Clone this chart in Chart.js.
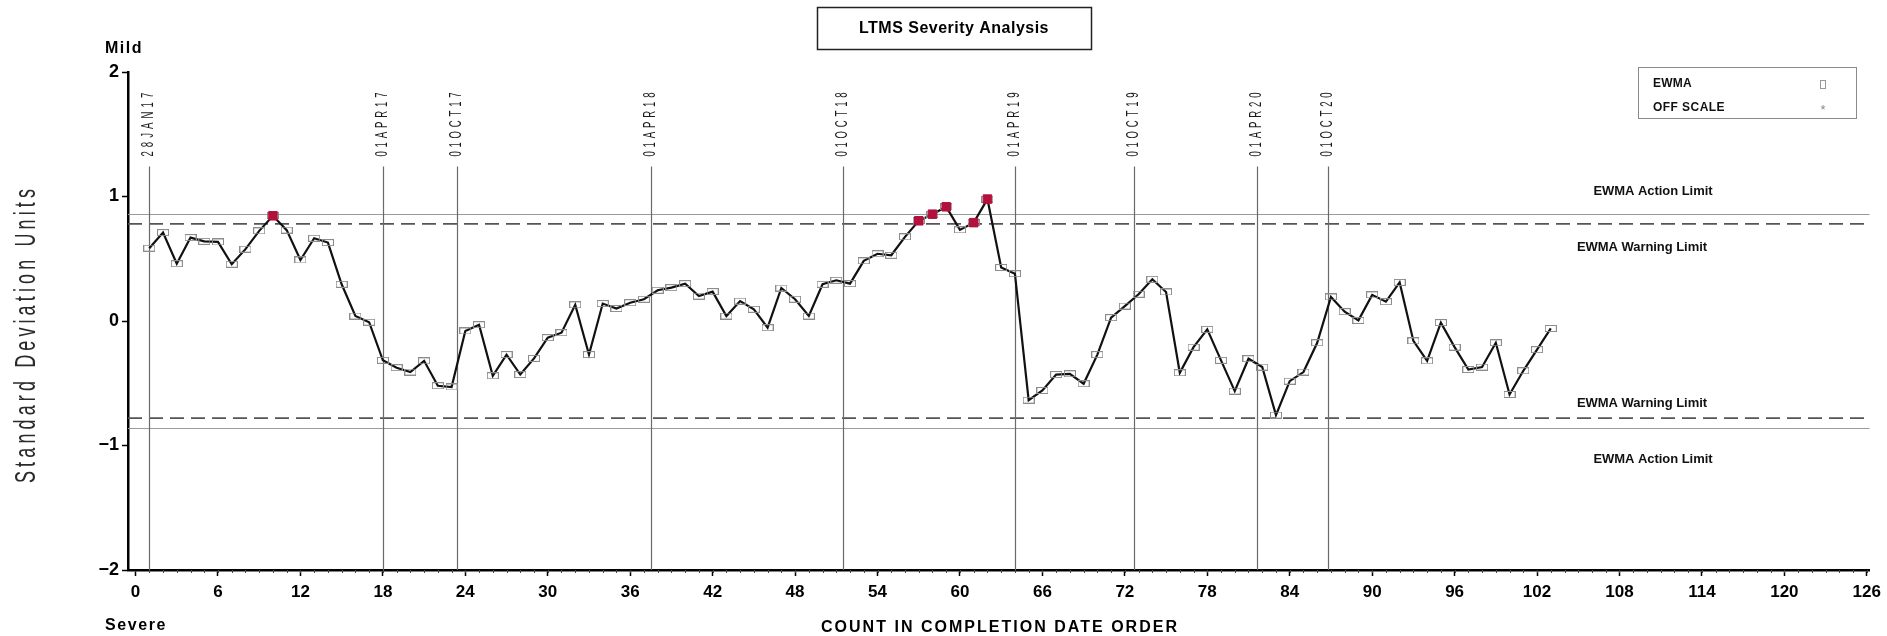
<!DOCTYPE html>
<html>
<head>
<meta charset="utf-8">
<script src="https://cdn.jsdelivr.net/npm/chart.js@4.4.1/dist/chart.umd.min.js"></script>
<style>
  html, body { margin: 0; padding: 0; background: #fff; }
</style>
</head>
<body>
<canvas id="myChart" width="1887" height="636"></canvas>
<script>
// EWMA value for each test, in completion order (count 1..103)
const ewma = [
  0.585, 0.71, 0.46, 0.67, 0.64, 0.635, 0.456, 0.577, 0.724, 0.845,
  0.73, 0.49, 0.665, 0.63, 0.295, 0.04, -0.01, -0.316, -0.375, -0.41,
  -0.32, -0.52, -0.53, -0.08, -0.03, -0.44, -0.27, -0.43, -0.30, -0.134,
  -0.094, 0.13, -0.27, 0.14, 0.10, 0.147, 0.175, 0.247, 0.268, 0.30,
  0.20, 0.236, 0.04, 0.16, 0.094, -0.054, 0.265, 0.175, 0.04, 0.295,
  0.327, 0.30, 0.483, 0.54, 0.528, 0.676, 0.805, 0.858, 0.917, 0.732,
  0.79, 0.979, 0.43, 0.38, -0.636, -0.558, -0.43, -0.424, -0.504, -0.27,
  0.027, 0.12, 0.215, 0.335, 0.233, -0.416, -0.21, -0.067, -0.316, -0.563,
  -0.303, -0.37, -0.756, -0.483, -0.41, -0.175, 0.193, 0.075, 0.005, 0.21,
  0.155, 0.31, -0.16, -0.32, -0.013, -0.21, -0.39, -0.37, -0.175, -0.59,
  -0.40, -0.23, -0.06,
];

// counts flagged off scale (red markers)
const offScaleCounts = [10, 57, 58, 59, 61, 62];

// date markers (vertical lines)
const dateLabels = ["28JAN17", "01APR17", "01OCT17", "01APR18", "01OCT18", "01APR19", "01OCT19", "01APR20", "01OCT20"];
const datePositions = [1, 18, 23.4, 37.5, 51.5, 64, 72.7, 81.6, 86.75];

const actionLimit = 0.86;
const warningLimit = 0.78;

const xTickValues = [0, 6, 12, 18, 24, 30, 36, 42, 48, 54, 60, 66, 72, 78, 84, 90, 96, 102, 108, 114, 120, 126];
const yTickValues = [-2, -1, 0, 1, 2];

const FONT = '"Liberation Sans", Arial, sans-serif';

// little open box used as the EWMA marker
function boxMarker() {
  const c = document.createElement("canvas");
  c.width = 12;
  c.height = 7;
  const g = c.getContext("2d");
  g.strokeStyle = "#8c8c8c";
  g.lineWidth = 1;
  g.strokeRect(0.5, 0.5, 11, 6);
  return c;
}

// draw text fitted to a width using letter spacing, sx squeezes the glyphs
function fitText(ctx, text, x, y, width, font, align, sx) {
  sx = sx || 1;
  ctx.save();
  ctx.translate(x, y);
  ctx.scale(sx, 1);
  ctx.font = font;
  ctx.letterSpacing = "0px";
  const w = ctx.measureText(text).width;
  const full = width / sx;
  const ls = (full - w) / text.length;
  ctx.letterSpacing = ls + "px";
  let start = 0;
  if (align === "center") start = -full / 2;
  else if (align === "right") start = -full;
  ctx.textAlign = "left";
  ctx.fillText(text, start, 0);
  ctx.restore();
}

const decor = {
  id: "decor",
  beforeDatasetsDraw(chart) {
    const { ctx, chartArea: a, scales } = chart;
    const x = scales.x, y = scales.y;
    ctx.save();

    // action limits, solid
    ctx.strokeStyle = "#9a9a9a";
    ctx.lineWidth = 1.2;
    [actionLimit, -actionLimit].forEach((v) => {
      const py = Math.round(y.getPixelForValue(v)) + 0.5;
      ctx.beginPath();
      ctx.moveTo(a.left, py);
      ctx.lineTo(a.right, py);
      ctx.stroke();
    });

    // warning limits, dashed
    ctx.strokeStyle = "#555";
    ctx.lineWidth = 1.6;
    ctx.setLineDash([14, 7]);
    [warningLimit, -warningLimit].forEach((v) => {
      const py = y.getPixelForValue(v);
      ctx.beginPath();
      ctx.moveTo(a.left, py);
      ctx.lineTo(a.right, py);
      ctx.stroke();
    });
    ctx.setLineDash([]);

    // date lines + rotated labels
    const top = y.getPixelForValue(1.24);
    ctx.strokeStyle = "#6a6a6a";
    ctx.lineWidth = 1.2;
    ctx.fillStyle = "#1a1a1a";
    ctx.textBaseline = "middle";
    datePositions.forEach((d, i) => {
      const px = Math.round(x.getPixelForValue(d)) + 0.5;
      ctx.beginPath();
      ctx.moveTo(px, top);
      ctx.lineTo(px, a.bottom);
      ctx.stroke();

      ctx.save();
      ctx.translate(px - 1, top - 10);
      ctx.rotate(-Math.PI / 2);
      fitText(ctx, dateLabels[i], 0, 0, 68, "16px " + FONT, "left", 0.6);
      ctx.restore();
    });

    // minor ticks on x axis
    ctx.strokeStyle = "#444";
    ctx.lineWidth = 1;
    for (let v = 1; v <= 126; v++) {
      const px = Math.round(x.getPixelForValue(v)) + 0.5;
      ctx.beginPath();
      ctx.moveTo(px, a.bottom);
      ctx.lineTo(px, a.bottom + 3);
      ctx.stroke();
    }
    ctx.restore();
  },

  afterDraw(chart) {
    const { ctx, scales } = chart;
    const y = scales.y;
    ctx.save();
    ctx.fillStyle = "#000";
    ctx.textBaseline = "middle";

    // title box
    ctx.strokeStyle = "#222";
    ctx.lineWidth = 1.5;
    ctx.strokeRect(817.5, 7.5, 274, 42);
    fitText(ctx, "LTMS Severity Analysis", 954, 29, 190, "bold 16px " + FONT, "center");

    // Mild / Severe
    fitText(ctx, "Mild", 105, 49, 38, "bold 16px " + FONT, "left");
    fitText(ctx, "Severe", 105, 626, 62, "bold 16px " + FONT, "left");

    // x axis title
    fitText(ctx, "COUNT IN COMPLETION DATE ORDER", 1000, 628, 358, "bold 16px " + FONT, "center");

    // y axis title
    ctx.save();
    ctx.translate(27, 334);
    ctx.rotate(-Math.PI / 2);
    ctx.fillStyle = "#2a2a2a";
    fitText(ctx, "Standard Deviation Units", 0, 0, 298, "29px " + FONT, "center", 0.62);
    ctx.restore();

    // limit labels
    const aTop = y.getPixelForValue(actionLimit);
    const wTop = y.getPixelForValue(warningLimit);
    const wBot = y.getPixelForValue(-warningLimit);
    const aBot = y.getPixelForValue(-actionLimit);
    ctx.fillStyle = "#111";
    const lf = "bold 13px " + FONT;
    fitText(ctx, "EWMA Action Limit", 1653, aTop - 23, 119, lf, "center");
    fitText(ctx, "EWMA Warning Limit", 1642, wTop + 24, 130, lf, "center");
    fitText(ctx, "EWMA Warning Limit", 1642, wBot - 15, 130, lf, "center");
    fitText(ctx, "EWMA Action Limit", 1653, aBot + 31, 119, lf, "center");

    // legend
    ctx.strokeStyle = "#8a8a8a";
    ctx.lineWidth = 1;
    ctx.strokeRect(1638.5, 67.5, 218, 51);
    fitText(ctx, "EWMA", 1653, 84, 39, "bold 12px " + FONT, "left");
    fitText(ctx, "OFF SCALE", 1653, 108, 72, "bold 12px " + FONT, "left");
    ctx.strokeStyle = "#999";
    ctx.strokeRect(1820.5, 80.5, 5, 8);
    ctx.fillStyle = "#888";
    ctx.font = "13px " + FONT;
    ctx.textAlign = "center";
    ctx.fillText("*", 1823, 110);

    ctx.restore();
  },
};

const ctx = document.querySelector("#myChart").getContext("2d");

const ewmaPoints = ewma.map((v, i) => ({ x: i + 1, y: v }));
const offPoints = offScaleCounts.map((c) => ({ x: c, y: ewma[c - 1] }));

const config = {
  type: "line",
  data: {
    datasets: [
      {
        label: "OFF SCALE",
        data: offPoints,
        showLine: false,
        pointStyle: "rect",
        pointRadius: 6,
        pointBackgroundColor: "#b3103c",
        pointBorderColor: "#b3103c",
        pointBorderWidth: 1,
        order: 0,
      },
      {
        label: "EWMA",
        data: ewmaPoints,
        borderColor: "#111",
        borderWidth: 2.2,
        tension: 0,
        fill: false,
        pointStyle: boxMarker(),
        pointRadius: 4,
        order: 1,
      },
    ],
  },
  options: {
    responsive: false,
    animation: false,
    layout: { padding: { top: 72, right: 14, bottom: 0, left: 0 } },
    plugins: {
      legend: { display: false },
      tooltip: { enabled: false },
    },
    scales: {
      x: {
        type: "linear",
        min: -0.55,
        max: 126.2,
        afterBuildTicks: (s) => {
          s.ticks = xTickValues.map((v) => ({ value: v }));
        },
        afterFit: (s) => {
          s.height = 66;
        },
        grid: { drawOnChartArea: false, drawTicks: true, tickLength: 6, color: "#000", tickWidth: 1.5 },
        border: { display: true, color: "#000", width: 2.5 },
        ticks: {
          autoSkip: false,
          maxRotation: 0,
          padding: 6,
          color: "#000",
          font: { family: FONT, size: 17, weight: "bold" },
        },
      },
      y: {
        type: "linear",
        min: -2,
        max: 2,
        afterBuildTicks: (s) => {
          s.ticks = yTickValues.map((v) => ({ value: v }));
        },
        afterFit: (s) => {
          s.width = 128;
        },
        grid: { drawOnChartArea: false, drawTicks: true, tickLength: 6, color: "#000", tickWidth: 1.5 },
        border: { display: true, color: "#000", width: 2.5 },
        ticks: {
          padding: 3,
          color: "#000",
          font: { family: FONT, size: 18, weight: "bold" },
          callback: (v) => (v < 0 ? "\u2212" + Math.abs(v) : String(v)),
        },
      },
    },
  },
  plugins: [decor],
};

const myChart = new Chart(ctx, config);
</script>
</body>
</html>
